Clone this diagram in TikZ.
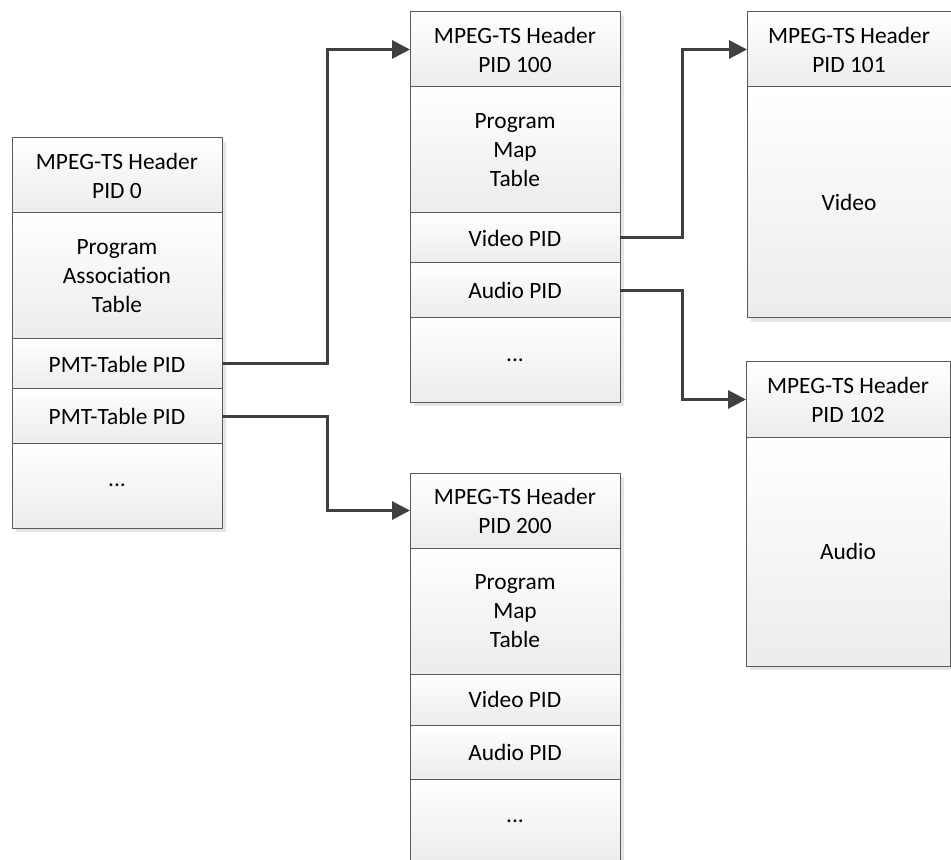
\documentclass[tikz,border=0pt]{standalone}
\usepackage{fontspec}
\setmainfont{Carlito}
\usetikzlibrary{arrows.meta, positioning, shadows}
\definecolor{cellline}{HTML}{5A5A5A}
\definecolor{cellbot}{HTML}{ECECEC}
\definecolor{linkgray}{HTML}{404040}

\begin{document}
\begin{tikzpicture} [x=0.5pt, y=-0.5pt, node distance=0pt,
	cell/.style ={draw=cellline, line width=0.5pt, top color=white, bottom color=cellbot, outer sep=0pt, inner sep=0pt, minimum width=105pt, align=center, font=\fontsize{11.7}{14.5}\selectfont, drop shadow={shadow xshift=2pt, shadow yshift=-2pt, fill=black!10, opacity=1}},
	hdr/.style ={cell, minimum height=37.5pt},
	tbl/.style ={cell, minimum height=63pt},
	pid/.style ={cell, minimum height=25pt},
	rest/.style ={cell, minimum height=42pt},
	body/.style ={cell, minimum width=102pt},
	link/.style ={draw=linkgray, line width=1.5pt, -{Triangle[length=9pt, width=9pt]}}]
		\useasboundingbox (0,0) rectangle (951,860);
		% PID 0
		\node[hdr, anchor=north west] (H0) at (12,138) {MPEG-TS Header\\PID 0};
		\node[tbl] (PAT) [below=of H0] {Program\\Association\\Table};
		\node[pid] (PMT1) [below=of PAT] {PMT-Table PID};
		\node[pid, minimum height=27pt] (PMT2) [below=of PMT1] {PMT-Table PID};
		\node[rest, minimum height=42.5pt] (R0) [below=of PMT2] {...};
		% PID 100
		\node[hdr, anchor=north west] (H100) at (410,12) {MPEG-TS Header\\PID 100};
		\node[tbl] (T100) [below=of H100] {Program\\Map\\Table};
		\node[pid] (V100) [below=of T100] {Video PID};
		\node[pid, minimum height=27.5pt] (A100) [below=of V100] {Audio PID};
		\node[rest] (R100) [below=of A100] {...};
		% PID 200
		\node[hdr, anchor=north west] (H200) at (410,473) {MPEG-TS Header\\PID 200};
		\node[tbl] (T200) [below=of H200] {Program\\Map\\Table};
		\node[pid, minimum height=25.5pt] (V200) [below=of T200] {Video PID};
		\node[pid, minimum height=27pt] (A200) [below=of V200] {Audio PID};
		\node[rest] (R200) [below=of A200] {...};
		% PID 101 and 102
		\node[hdr, body, anchor=north west] (H101) at (747,12) {MPEG-TS Header\\PID 101};
		\node[body, minimum height=115.5pt] (V101) [below=of H101] {Video};
		\node[hdr, body, anchor=north west] (H102) at (746,362) {MPEG-TS Header\\PID 102};
		\node[body, minimum height=114.5pt] (A102) [below=of H102] {Audio};
		% links
		\path[link] (PMT1.east) -- +(52.5pt,0) |- (H100.west);
		\path[link] (PMT2.east) -- +(52.5pt,0) |- (H200.west);
		\path[link] (V100.east) -- +(31pt,0) |- (H101.west);
		\path[link] (A100.east) -- +(31pt,0) |- (H102.west);
	\end{tikzpicture}
\end{document}
